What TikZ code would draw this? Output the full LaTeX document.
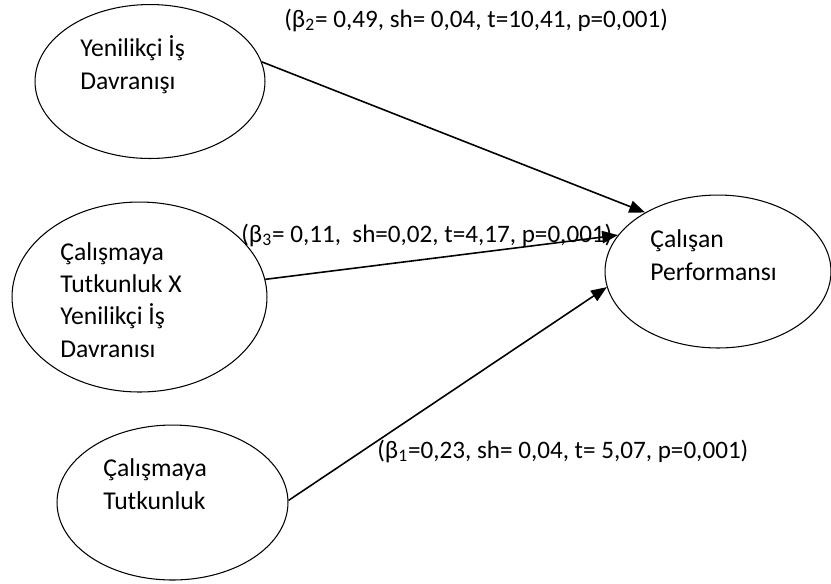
\documentclass[tikz,border=0pt]{standalone}
\usepackage{fontspec}
\setmainfont{Carlito}
\usetikzlibrary{shapes.geometric,arrows.meta}

\tikzset{
  construct/.style={ellipse, draw, line width=0.6pt, inner sep=0pt},
  inside/.style={anchor=base west, align=left, inner sep=0pt, font=\fontsize{14.6}{18.4}\selectfont},
  coef/.style={anchor=base west, inner sep=0pt, font=\fontsize{14.3}{17}\selectfont},
  effect/.style={-{Triangle[length=9pt,width=7pt]}, line width=0.9pt}
}

\begin{document}
\begin{tikzpicture}[x=0.02cm, y=-0.02cm]
    \useasboundingbox (0,0) rectangle (831,583);

    % Yenilikci is davranisi
    \node[construct, minimum width=4.6cm, minimum height=3.08cm] (yid) at (150,81.5) {};
    \node[inside] (yidtext) at (80,89) {Yenilikçi İş\\Davranışı};

    % Etkilesim
    \node[construct, minimum width=5.1cm, minimum height=3.8cm] (tyid) at (139.5,297) {};
    \node[inside] (tyidtext) at (60,357) {Çalışmaya\\Tutkunluk X\\Yenilikçi İş\\Davranısı};

    % Calismaya tutkunluk
    \node[construct, minimum width=4.62cm, minimum height=3.1cm] (tut) at (172.5,502.5) {};
    \node[inside] (tuttext) at (103,509) {Çalışmaya\\Tutkunluk};

    % Calisan performansi
    \node[construct, minimum width=4.52cm, minimum height=3.06cm] (perf) at (718,271.5) {};
    \node[inside] (perftext) at (650,280) {Çalışan\\Performansı};

    % Yollar
    \draw[effect] (yid.10) -- (perf.141);
    \draw[effect] (tyid.8) -- (perf.160);
    \draw[effect] (tut.1) -- (perf.188);

    % Katsayilar
    \node[coef] (b2) at (284,27) {(β\textsubscript{2}= 0,49, sh= 0,04, t=10,41, p=0,001)};
    \node[coef] (b3) at (241,242) {(β\textsubscript{3}= 0,11,\ \ sh=0,02, t=4,17, p=0,001)};
    \node[coef] (b1) at (377,458) {(β\textsubscript{1}=0,23, sh= 0,04, t= 5,07, p=0,001)};
\end{tikzpicture}
\end{document}
